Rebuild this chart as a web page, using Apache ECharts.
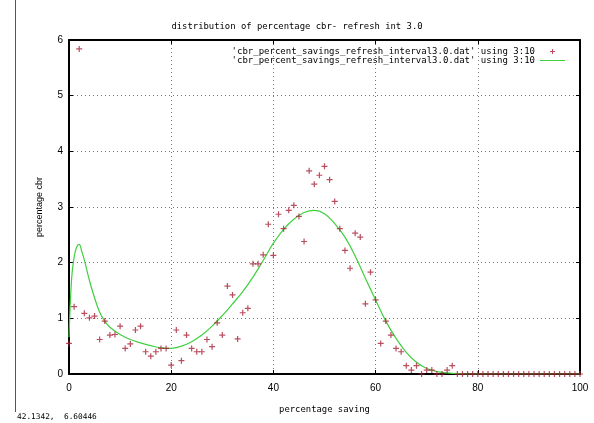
<!DOCTYPE html>
<html>
<head>
<meta charset="utf-8">
<script src="https://cdn.jsdelivr.net/npm/echarts@6/dist/echarts.min.js"></script>
<style>html,body{margin:0;padding:0;background:#fff;}#c{width:594px;height:423px;}</style>
</head>
<body>
<div id="c"></div>
<script>
const TITLE = 'distribution of percentage cbr- refresh int 3.0';
const X_NAME = 'percentage saving';
const Y_NAME = 'percentage cbr';
const LEGEND_LABEL = "'cbr_percent_savings_refresh_interval3.0.dat' using 3:10";
const STATUS_TEXT = '42.1342,  6.60446';

const xTicks = [0, 20, 40, 60, 80, 100];
const yTicks = [0, 1, 2, 3, 4, 5, 6];

// scatter points: x = percentage saving, y = percentage cbr
const pointX = [
  0, 1, 2, 3, 4, 5, 6, 7, 8, 9,
  10, 11, 12, 13, 14, 15, 16, 17, 18, 19,
  20, 21, 22, 23, 24, 25, 26, 27, 28, 29,
  30, 31, 32, 33, 34, 35, 36, 37, 38, 39,
  40, 41, 42, 43, 44, 45, 46, 47, 48, 49,
  50, 51, 52, 53, 54, 55, 56, 57, 58, 59,
  60, 61, 62, 63, 64, 65, 66, 67, 68, 69,
  70, 71, 72, 73, 74, 75, 76, 77, 78, 79,
  80, 81, 82, 83, 84, 85, 86, 87, 88, 89,
  90, 91, 92, 93, 94, 95, 96, 97, 98, 99, 100
];
const pointY = [
  0.55, 1.21, 5.84, 1.09, 1.01, 1.04, 0.62, 0.95, 0.70, 0.71,
  0.86, 0.46, 0.54, 0.79, 0.86, 0.40, 0.32, 0.40, 0.46, 0.46,
  0.16, 0.79, 0.24, 0.70, 0.46, 0.40, 0.40, 0.62, 0.49, 0.92,
  0.70, 1.58, 1.42, 0.63, 1.10, 1.18, 1.98, 1.98, 2.14, 2.69,
  2.13, 2.87, 2.61, 2.94, 3.03, 2.83, 2.38, 3.65, 3.41, 3.57,
  3.73, 3.49, 3.10, 2.61, 2.22, 1.90, 2.53, 2.46, 1.26, 1.83,
  1.33, 0.55, 0.95, 0.70, 0.46, 0.40, 0.15, 0.07, 0.15, 0,
  0.07, 0.07, 0, 0, 0.07, 0.15, 0, 0, 0, 0,
  0, 0, 0, 0, 0, 0, 0, 0, 0, 0,
  0, 0, 0, 0, 0, 0, 0, 0, 0, 0, 0
];

// fitted curve samples
const fitX = [0, 0.5, 1, 1.5, 2, 2.5, 3, 4, 5, 6, 7, 8, 10, 12, 14, 16, 18, 20, 22, 24, 26, 28, 30,
  32, 34, 36, 38, 40, 42, 44, 46, 48, 50, 52, 54, 56, 58, 60, 62, 64, 66, 68, 70, 72, 74, 76, 78, 90, 100];
const fitY = [0.66, 1.7, 2.1, 2.28, 2.33, 2.2, 2.05, 1.68, 1.37, 1.11, 0.95, 0.84, 0.71, 0.62, 0.56, 0.51, 0.47, 0.46, 0.50, 0.58, 0.70, 0.86, 1.05,
  1.26, 1.48, 1.74, 2.04, 2.35, 2.60, 2.78, 2.90, 2.94, 2.88, 2.70, 2.46, 2.12, 1.72, 1.33, 0.95, 0.64, 0.39, 0.21, 0.10, 0.045, 0.02, 0.005, 0, 0, 0];

const pts = pointX.map((x, i) => [x, pointY[i]]);
const fit = fitX.map((x, i) => [x, fitY[i]]);

const MONO = "'DejaVu Sans Mono', monospace";
const SANS = "'Liberation Sans', Arial, sans-serif";
const PLUS = 'path://M2,0H3V2H5V3H3V5H2V3H0V2H2Z';
const LINE_ICON = 'path://M0,0H25V1H0Z';
const RED = '#a82236';
const GREEN = '#3fcf3f';

const chart = echarts.init(document.getElementById('c'), null, {renderer: 'canvas'});
const xMin = xTicks[0], xMax = xTicks[xTicks.length - 1];
const yMin = yTicks[0], yMax = yTicks[yTicks.length - 1];
const baseAxis = {
  axisLine: {show: true, onZero: false, lineStyle: {color: '#000', width: 2}},
  axisTick: {show: true, inside: true, length: 4, lineStyle: {color: '#000', width: 1}},
};
chart.setOption({
  animation: false,
  backgroundColor: '#fff',
  title: {
    text: TITLE, left: 'center', top: 17,
    textStyle: {fontFamily: MONO, fontSize: 8.9, fontWeight: 'normal', color: '#000'}
  },
  grid: {left: 69, right: 14, top: 40, bottom: 49, containLabel: false},
  legend: {
    orient: 'vertical', right: 24, top: 42, align: 'right',
    itemWidth: 25, itemHeight: 5, itemGap: 0,
    symbolKeepAspect: true,
    data: [{name: 'points', icon: PLUS}, {name: 'fit', icon: LINE_ICON}],
    formatter: () => LEGEND_LABEL,
    textStyle: {fontFamily: MONO, fontSize: 9, color: '#000'}
  },
  xAxis: [
    Object.assign({}, baseAxis, {
      type: 'value', min: xMin, max: xMax, interval: 20, position: 'bottom',
      name: X_NAME, nameLocation: 'middle', nameGap: 31,
      nameTextStyle: {fontFamily: MONO, fontSize: 8.9, color: '#000'},
      axisLabel: {fontFamily: SANS, fontSize: 10, color: '#000', margin: 9},
      splitLine: {show: true, lineStyle: {color: '#777', type: [1, 3], width: 1}}
    }),
    Object.assign({}, baseAxis, {
      type: 'value', min: xMin, max: xMax, interval: 20, position: 'top',
      axisLabel: {show: false}, splitLine: {show: false}
    })
  ],
  yAxis: [
    Object.assign({}, baseAxis, {
      type: 'value', min: yMin, max: yMax, interval: 1, position: 'left',
      name: Y_NAME, nameLocation: 'middle', nameGap: 25, nameRotate: 90,
      nameTextStyle: {fontFamily: SANS, fontSize: 9, color: '#000'},
      axisLabel: {fontFamily: SANS, fontSize: 10, color: '#000', margin: 6},
      splitLine: {show: true, lineStyle: {color: '#777', type: [1, 3], width: 1}}
    }),
    Object.assign({}, baseAxis, {
      type: 'value', min: yMin, max: yMax, interval: 1, position: 'right',
      axisLabel: {show: false}, splitLine: {show: false}
    })
  ],
  graphic: [
    {type: 'line', shape: {x1: 15.5, y1: 0, x2: 15.5, y2: 412}, style: {stroke: '#555', lineWidth: 1}, silent: true},
    {type: 'text', left: 17, top: 413,
      style: {text: STATUS_TEXT, font: "7.8px 'DejaVu Sans Mono', monospace", fill: '#000'}}
  ],
  series: [
    {
      name: 'points', type: 'scatter', data: pts,
      symbol: PLUS, symbolSize: 6,
      itemStyle: {color: RED}, z: 3
    },
    {
      name: 'fit', type: 'line', data: fit, smooth: 0.4,
      symbol: 'none', lineStyle: {color: GREEN, width: 1.2},
      itemStyle: {color: GREEN}, z: 2
    }
  ]
});
</script>
</body>
</html>
